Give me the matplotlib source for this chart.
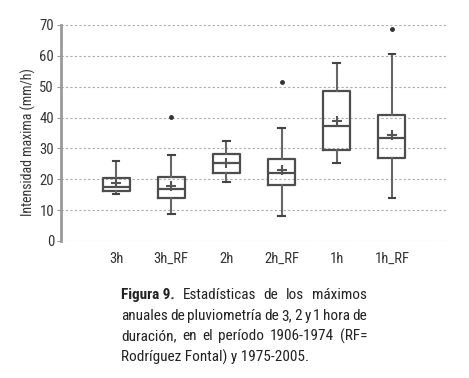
import matplotlib
matplotlib.use("Agg")
import matplotlib.pyplot as plt
from matplotlib import font_manager

names = {f.name for f in font_manager.fontManager.ttflist}
font = 'DejaVu Sans'
for cand in ['Liberation Sans Narrow', 'DejaVu Sans Condensed', 'Roboto Condensed',
             'Open Sans Condensed', 'Noto Sans Condensed']:
    if cand in names:
        font = cand
        break
plt.rcParams['font.family'] = [font, 'DejaVu Sans']
narrow = font != 'DejaVu Sans'

# box statistics
labels = ['3h', '3h_RF', '2h', '2h_RF', '1h', '1h_RF']
whislo = [15.2, 8.7, 19.0, 8.2, 25.2, 13.9]
q1 = [16.1, 13.9, 21.9, 18.2, 29.5, 27.0]
med = [17.6, 17.0, 25.2, 21.9, 37.4, 33.4]
q3 = [20.4, 20.8, 28.2, 26.7, 48.7, 40.8]
whishi = [26.0, 27.9, 32.4, 36.6, 57.7, 60.5]
means = [18.7, 17.9, 25.4, 22.9, 38.8, 34.4]
outliers = [[], [40.3], [], [51.5], [], [68.7]]

stats = []
for i in range(len(labels)):
    stats.append(dict(label=labels[i], whislo=whislo[i], q1=q1[i], med=med[i],
                      q3=q3[i], whishi=whishi[i], mean=means[i], fliers=outliers[i]))

W, H = 469, 378
fig = plt.figure(figsize=(W / 100, H / 100), dpi=100)
ax = fig.add_axes([61 / W, 1 - 241 / H, 386 / W, 216 / H])

edge = '#4d4d4d'
ax.bxp(stats, positions=range(1, 7), widths=0.49, showmeans=True,
       boxprops=dict(color=edge, linewidth=1.6),
       medianprops=dict(color=edge, linewidth=1.6),
       whiskerprops=dict(color='#666666', linewidth=1.5),
       capprops=dict(color='#444444', linewidth=1.5),
       capwidths=0.12,
       meanprops=dict(marker='+', markeredgecolor='#555555', markersize=7, markeredgewidth=1.5),
       flierprops=dict(marker='o', markerfacecolor='#333333', markeredgecolor='#333333', markersize=2.5))

tick_size = 10.5 if narrow else 8.5
ax.set_xlim(0, 7)
ax.set_ylim(0, 70)
ax.set_yticks(range(0, 71, 10))
ax.yaxis.grid(True, linestyle=(0, (2, 2)), color='#aaaaaa', linewidth=0.8)
ax.set_axisbelow(True)
for s in ['top', 'right', 'bottom']:
    ax.spines[s].set_visible(False)
ax.spines['left'].set_color('#999999')
ax.spines['left'].set_linewidth(2)
ax.tick_params(axis='y', length=3, color='#999999', labelsize=tick_size, pad=2, labelcolor='#333333')
ax.tick_params(axis='x', length=0, labelsize=tick_size, pad=8, labelcolor='#333333')
ax.set_ylabel('Intensidad maxima (mm/h)', fontsize=tick_size - 0.5, color='#333333')
ax.yaxis.set_label_coords(-0.065, 0.46)

# caption, justified between x=121 and x=367 px
cap_size = 11 if narrow else 9.5
caption = [['Figura 9.', 'Estadísticas', 'de', 'los', 'máximos'],
           ['anuales', 'de', 'pluviometría', 'de', '3,', '2', 'y', '1', 'hora', 'de'],
           ['duración,', 'en', 'el', 'período', '1906-1974', '(RF=']]
last_line = 'Rodríguez Fontal) y 1975-2005.'
x0, x1 = 121, 367
ys = [295, 316, 336, 357]
renderer = fig.canvas.get_renderer()
for k, words in enumerate(caption):
    texts = []
    for j, w in enumerate(words):
        bold = (k == 0 and j == 0)
        t = fig.text(0, 1 - ys[k] / H, w, fontsize=cap_size, color='#222222', va='center',
                     fontweight='bold' if bold else 'normal')
        texts.append(t)
    widths = [t.get_window_extent(renderer).width for t in texts]
    gap = (x1 - x0 - sum(widths)) / (len(texts) - 1)
    x = x0
    for t, w in zip(texts, widths):
        t.set_x(x / W)
        x += w + gap
fig.text(x0 / W, 1 - ys[3] / H, last_line, fontsize=cap_size, color='#222222', va='center')

fig.savefig('out.png', dpi=100)
